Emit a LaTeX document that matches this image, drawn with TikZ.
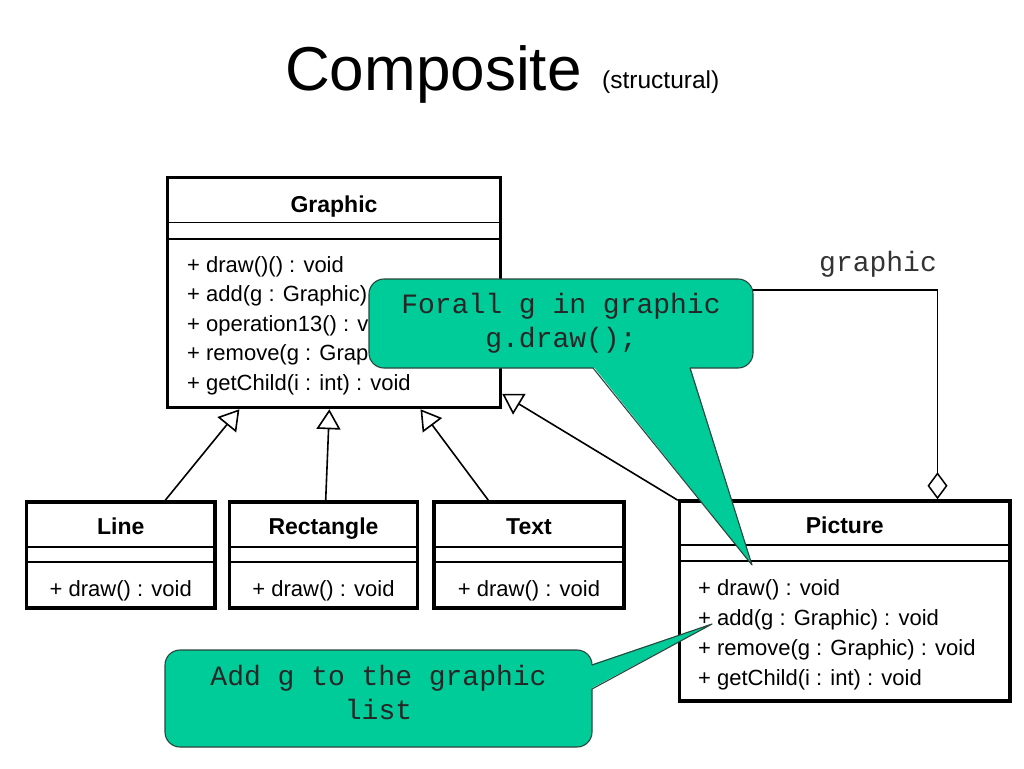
\documentclass[tikz,border=0pt]{standalone}
\usepackage{fontspec}
\setmainfont{Liberation Sans}
\newfontfamily\codefont{Liberation Mono}
\usetikzlibrary{arrows.meta}
\definecolor{notefill}{RGB}{0,204,153}
\definecolor{noteline}{RGB}{40,70,60}
\begin{document}
\begin{tikzpicture}[x=1pt,y=-1pt,
  cls/.style={draw, line width=3.5pt, inner sep=0pt, fill=white},
  sepline/.style={line width=1.5pt},
  ttl/.style={font=\fontsize{23}{27}\selectfont\bfseries, anchor=base, inner sep=0pt},
  mth/.style={font=\fontsize{22}{26}\selectfont, anchor=base west, inner sep=0pt},
  mthc/.style={font=\fontsize{22}{26}\selectfont, anchor=base, inner sep=0pt},
  code/.style={font=\codefont\fontsize{28}{32}\selectfont, anchor=base, inner sep=0pt, text=black!85},
  gen/.style={line width=1.6pt, -{Triangle[length=20pt,width=24pt,fill=white,line width=1.6pt]}},
  aggr/.style={line width=1.5pt, {Diamond[length=27pt,width=20pt,fill=white,line width=1.5pt]}-},
  notebody/.style={fill=notefill},
  noteedge/.style={draw=noteline, line width=1.1pt, line join=round}
]
\useasboundingbox (0,0) rectangle (1024,768);

% title
\node[font=\fontsize{62}{70}\selectfont, anchor=base west, inner sep=0pt] (title) at (285,90) {Composite};
\node[font=\fontsize{24.5}{28}\selectfont, anchor=base west, inner sep=0pt] (subtitle) at (602,88) {(structural)};

% Graphic class
\node[cls, minimum width=333pt, minimum height=230pt] (graphic) at (334,292.5) {};
\draw[sepline] (graphic.west |- 0,222.5) -- (graphic.east |- 0,222.5);
\draw[sepline] (graphic.west |- 0,239) -- (graphic.east |- 0,239);
\node[ttl] (graphicname) at (334,212) {Graphic};
\foreach \t [count=\i] in {{+ draw()() : void},{+ add(g : Graphic) : void},{+ operation13() : void},{+ remove(g : Graphic) : void},{+ getChild(i : int) : void}}
  \node[mth] (gm\i) at (187,{242.5+29.5*\i}) {\t};

% subclasses
\node[cls, minimum width=188.5pt, minimum height=106pt] (line) at (120.75,555) {};
\node[cls, minimum width=188pt, minimum height=106pt] (rect) at (323.5,555) {};
\node[cls, minimum width=190pt, minimum height=106pt] (text) at (529,555) {};
\foreach \n/\nm in {line/Line, rect/Rectangle, text/Text}{
  \draw[sepline] (\n.west |- 0,547) -- (\n.east |- 0,547);
  \draw[sepline] (\n.west |- 0,562) -- (\n.east |- 0,562);
  \node[ttl] (\n name) at (\n.center |- 0,534) {\nm};
  \node[mthc] (\n m1) at (\n.center |- 0,596) {+ draw() : void};
}

% Picture class
\node[cls, minimum width=330.5pt, minimum height=200pt] (picture) at (844.75,601) {};
\draw[sepline] (picture.west |- 0,545) -- (picture.east |- 0,545);
\draw[sepline] (picture.west |- 0,561) -- (picture.east |- 0,561);
\node[ttl] (picturename) at (844.75,533) {Picture};
\foreach \t [count=\i] in {{+ draw() : void},{+ add(g : Graphic) : void},{+ remove(g : Graphic) : void},{+ getChild(i : int) : void}}
  \node[mth] (pm\i) at (698,{565+30*\i}) {\t};

% generalizations
\draw[gen] (line) -- (graphic);
\draw[gen] (rect) -- (graphic);
\draw[gen] (text) -- (graphic);
\draw[gen] (picture) -- (graphic);

% aggregation
\coordinate (aggcorner) at (937.5,290);
\draw[aggr] (picture.north -| aggcorner) -- (aggcorner) -- (graphic.east |- aggcorner);
\node[code, text=black!80] (rolename) at (878,271) {graphic};

% note 1
\fill[notebody, rounded corners=15pt] (369,279) rectangle (753,368);
\fill[notebody] (593,366) -- (752,565) -- (690,366) -- cycle;
\draw[noteedge, rounded corners=15pt] (690,368) -- (753,368) -- (753,279) -- (369,279) -- (369,368) -- (593,368);
\draw[noteedge] (593,368) -- (752,565) -- (690,368);
\node[code] (note1a) at (561,313) {Forall g in graphic};
\node[code] (note1b) at (561,347) {g.draw();};

% note 2
\fill[notebody, rounded corners=15pt] (165,650) rectangle (592,747);
\fill[notebody] (590,665) -- (712,624) -- (590,689) -- cycle;
\draw[noteedge, rounded corners=15pt] (592,689) -- (592,747) -- (165,747) -- (165,650) -- (592,650) -- (592,665);
\draw[noteedge] (592,665) -- (712,624) -- (592,689);
\node[code] (note2a) at (378.5,685) {Add g to the graphic};
\node[code] (note2b) at (378.5,719) {list};
\end{tikzpicture}
\end{document}
